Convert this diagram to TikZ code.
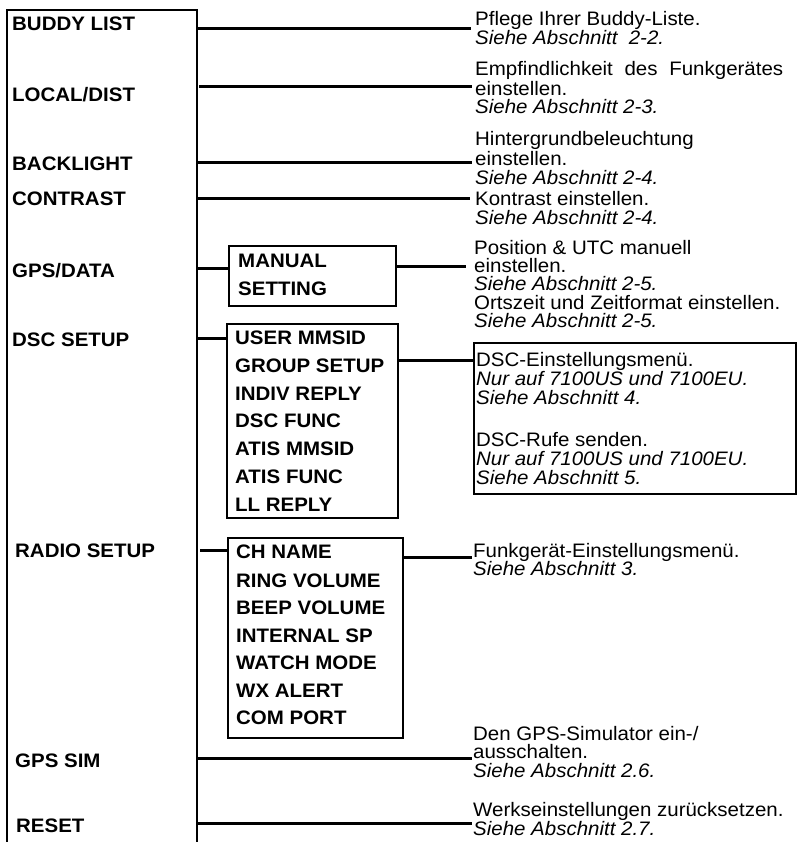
\documentclass[tikz,border=0pt]{standalone}
\usepackage{fontspec}
\setmainfont{Liberation Sans}[FakeStretch=1.05]
\begin{document}
\begin{tikzpicture}[x=1pt,y=-1pt,
  txt/.style={anchor=base west, inner sep=0pt, font=\fontsize{19.5}{19.5}\selectfont},
  itx/.style={txt, font=\fontsize{19.5}{19.5}\selectfont\itshape},
  lbl/.style={anchor=base west, inner sep=0pt, font=\fontsize{19.5}{19.5}\selectfont\bfseries},
  conn/.style={line width=3pt},
  frame/.style={line width=2.3pt},
  subbox/.style={draw, line width=2.4pt, inner sep=0pt, anchor=north west},
  notebox/.style={draw, line width=2pt, inner sep=0pt, anchor=north west}]
\useasboundingbox (0,0) rectangle (796,842);
% main frame (open at the bottom)
\coordinate (fbl) at (7,842);
\coordinate (ftl) at (7,10);
\coordinate (ftr) at (197,10);
\coordinate (fbr) at (197,842);
\draw[frame] (fbl) -- (ftl) -- (ftr) -- (fbr);
% left labels
\node[lbl] (buddy) at (12,31) {BUDDY LIST};
\node[lbl] (local) at (12,102) {LOCAL/DIST};
\node[lbl] (back) at (12,171) {BACKLIGHT};
\node[lbl] (contr) at (12,206) {CONTRAST};
\node[lbl] (gps) at (12,277) {GPS/DATA};
\node[lbl] (dsc) at (12,346) {DSC SETUP};
\node[lbl] (radio) at (15,557) {RADIO SETUP};
\node[lbl] (gsim) at (15,767) {GPS SIM};
\node[lbl] (reset) at (16,832) {RESET};
% sub menu boxes
\node[subbox, minimum width=167pt, minimum height=60pt] (manbox) at (228,245) {};
\node[lbl] (man1) at (238,267) {MANUAL};
\node[lbl] (man2) at (238,295) {SETTING};
\node[subbox, minimum width=171pt, minimum height=194pt] (dscbox) at (226,323) {};
\node[lbl] (d1) at (235,344) {USER MMSID};
\node[lbl] (d2) at (235,372) {GROUP SETUP};
\node[lbl] (d3) at (235,400) {INDIV REPLY};
\node[lbl] (d4) at (235,427) {DSC FUNC};
\node[lbl] (d5) at (235,455) {ATIS MMSID};
\node[lbl] (d6) at (235,483) {ATIS FUNC};
\node[lbl] (d7) at (235,511) {LL REPLY};
\node[subbox, minimum width=175pt, minimum height=200pt] (radbox) at (227,537) {};
\node[lbl] (r1) at (236,558) {CH NAME};
\node[lbl] (r2) at (236,587) {RING VOLUME};
\node[lbl] (r3) at (236,614) {BEEP VOLUME};
\node[lbl] (r4) at (236,642) {INTERNAL SP};
\node[lbl] (r5) at (236,669) {WATCH MODE};
\node[lbl] (r6) at (236,697) {WX ALERT};
\node[lbl] (r7) at (236,724) {COM PORT};
% right descriptions
\node[txt] (a1) at (475,26) {Pflege Ihrer Buddy-Liste.};
\node[itx] (a2) at (475,44.5) {Siehe Abschnitt\ \ 2-2.};
\node[txt] (b1) at (475,76) {\makebox[308pt][s]{Empfindlichkeit des Funkgerätes}};
\node[txt] (b2) at (475,95.5) {einstellen.};
\node[itx] (b3) at (475,114) {Siehe Abschnitt 2-3.};
\node[txt] (c1) at (475,146) {Hintergrundbeleuchtung};
\node[txt] (c2) at (475,165.5) {einstellen.};
\node[itx] (c3) at (475,185) {Siehe Abschnitt 2-4.};
\node[txt] (k1) at (475,205.5) {Kontrast einstellen.};
\node[itx] (k2) at (475,224.5) {Siehe Abschnitt 2-4.};
\node[txt] (p1) at (474,254) {Position \& UTC manuell};
\node[txt] (p2) at (474,272) {einstellen.};
\node[itx] (p3) at (474,290) {Siehe Abschnitt 2-5.};
\node[txt] (p4) at (474,309) {Ortszeit und Zeitformat einstellen.};
\node[itx] (p5) at (474,327) {Siehe Abschnitt 2-5.};
\node[notebox, minimum width=322pt, minimum height=151pt] (note) at (473,342) {};
\node[txt] (n1) at (476,366) {DSC-Einstellungsmenü.};
\node[itx] (n2) at (476,385) {Nur auf 7100US und 7100EU.};
\node[itx] (n3) at (476,404) {Siehe Abschnitt 4.};
\node[txt] (n4) at (476,446) {DSC-Rufe senden.};
\node[itx] (n5) at (476,465) {Nur auf 7100US und 7100EU.};
\node[itx] (n6) at (476,484) {Siehe Abschnitt 5.};
\node[txt] (f1) at (473,557) {Funkgerät-Einstellungsmenü.};
\node[itx] (f2) at (473,575.5) {Siehe Abschnitt 3.};
\node[txt] (g1) at (473,740) {Den GPS-Simulator ein-/};
\node[txt] (g2) at (473,758.5) {ausschalten.};
\node[itx] (g3) at (473,777) {Siehe Abschnitt 2.6.};
\node[txt] (w1) at (473,816) {Werkseinstellungen zurücksetzen.};
\node[itx] (w2) at (473,835) {Siehe Abschnitt 2.7.};
% connectors
\coordinate (s1) at (197,29);  \coordinate (e1) at (471,29);
\coordinate (s2) at (199,87);  \coordinate (e2) at (472,87);
\coordinate (s3) at (197,163); \coordinate (e3) at (472,163);
\coordinate (s4) at (197,199); \coordinate (e4) at (470,199);
\draw[conn] (s1) -- (e1);
\draw[conn] (s2) -- (e2);
\draw[conn] (s3) -- (e3);
\draw[conn] (s4) -- (e4);
\coordinate (s5) at (196,268);
\draw[conn] (s5) -- (s5 -| manbox.west);
\coordinate (e5) at (466,266);
\draw[conn] (manbox.east |- e5) -- (e5);
\coordinate (s6) at (197,338);
\draw[conn] (s6) -- (s6 -| dscbox.west);
\coordinate (e6) at (473,360);
\draw[conn] (dscbox.east |- e6) -- (e6 -| note.west);
\coordinate (s7) at (200,550);
\draw[conn] (s7) -- (s7 -| radbox.west);
\coordinate (e7) at (472,557);
\draw[conn] (radbox.east |- e7) -- (e7);
\coordinate (s8) at (197,758); \coordinate (e8) at (472,758);
\draw[conn] (s8) -- (e8);
\coordinate (s9) at (197,823); \coordinate (e9) at (472,823);
\draw[conn] (s9) -- (e9);
\end{tikzpicture}
\end{document}
